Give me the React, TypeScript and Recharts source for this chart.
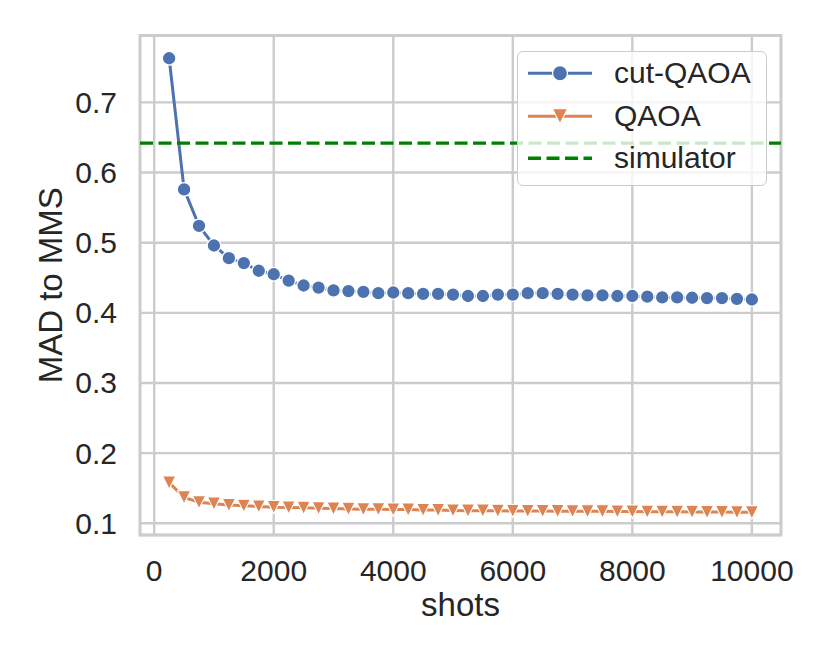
import React from 'react';
import { LineChart, Line, XAxis, YAxis, CartesianGrid, ReferenceLine, ReferenceArea, Legend } from 'recharts';

const shots = [250, 500, 750, 1000, 1250, 1500, 1750, 2000, 2250, 2500, 2750, 3000, 3250, 3500, 3750, 4000, 4250, 4500, 4750, 5000,
  5250, 5500, 5750, 6000, 6250, 6500, 6750, 7000, 7250, 7500, 7750, 8000, 8250, 8500, 8750, 9000, 9250, 9500, 9750, 10000];

const cutQAOA = [0.763, 0.576, 0.524, 0.496, 0.478, 0.471, 0.460, 0.455, 0.446, 0.439, 0.436, 0.432, 0.431, 0.430, 0.428, 0.429, 0.428, 0.427, 0.427, 0.426,
  0.424, 0.424, 0.426, 0.426, 0.428, 0.428, 0.427, 0.426, 0.425, 0.425, 0.424, 0.424, 0.423, 0.422, 0.422, 0.4215, 0.421, 0.421, 0.420, 0.419];

const qaoa = [0.158, 0.137, 0.130, 0.128, 0.126, 0.125, 0.124, 0.123, 0.1225, 0.122, 0.1215, 0.121, 0.1205, 0.120, 0.120, 0.1195, 0.1195, 0.119, 0.1188, 0.1182,
  0.118, 0.118, 0.1178, 0.1176, 0.1175, 0.1175, 0.1173, 0.1172, 0.117, 0.117, 0.1168, 0.1167, 0.1165, 0.1165, 0.1163, 0.1162, 0.116, 0.116, 0.1158, 0.1157];

const SIMULATOR = 0.642;

const xTicks = [0, 2000, 4000, 6000, 8000, 10000];
const yTicks = [0.1, 0.2, 0.3, 0.4, 0.5, 0.6, 0.7];
const xDomain = [-237.5, 10487.5];
const yDomain = [0.0833, 0.7954];

const BLUE = '#4c72b0';
const ORANGE = '#dd8452';
const GREEN = '#008000';
const TEXT = '#262626';
const GRID = '#cccccc';
const FONT = '"Liberation Sans", Arial, sans-serif';
const FS = 30;
const LABEL_FS = 33;

const data = shots.map((s, i) => ({ shots: s, cut: cutQAOA[i], qaoa: qaoa[i] }));

const XTick = (props: any) => (
  <text x={props.x} y={props.y + 46} textAnchor="middle" fontSize={FS} fill={TEXT} fontFamily={FONT}>
    {props.payload.value}
  </text>
);

const YTick = (props: any) => (
  <text x={props.x - 23} y={props.y + 10.5} textAnchor="end" fontSize={FS} fill={TEXT} fontFamily={FONT}>
    {Number(props.payload.value).toFixed(1)}
  </text>
);

const CircleDot = (props: any) => {
  const { cx, cy, index } = props;
  if (cx == null || cy == null) return <g key={index} />;
  return <circle key={index} cx={cx} cy={cy} r={6.8} fill={BLUE} stroke="#ffffff" strokeWidth={1.3} />;
};

const TriDot = (props: any) => {
  const { cx, cy, index } = props;
  if (cx == null || cy == null) return <g key={index} />;
  const h = 6.6;
  return (
    <polygon key={index} points={`${cx - h},${cy - h} ${cx + h},${cy - h} ${cx},${cy + h}`} fill={ORANGE} stroke="#ffffff" strokeWidth={1.1} />
  );
};

const legendItems = [
  { name: 'cut-QAOA', color: BLUE, kind: 'circle' },
  { name: 'QAOA', color: ORANGE, kind: 'tri' },
  { name: 'simulator', color: GREEN, kind: 'dash' },
];

const LegendContent = () => (
  <div
    style={{
      width: 250,
      boxSizing: 'border-box',
      border: `1.5px solid ${GRID}`,
      borderRadius: 6,
      background: 'rgba(255,255,255,0.8)',
      paddingBottom: 5,
      fontFamily: FONT,
      fontSize: FS,
      color: TEXT,
    }}
  >
    {legendItems.map((it) => (
      <div key={it.name} style={{ display: 'flex', alignItems: 'center', height: 42.5, lineHeight: '42.5px' }}>
        <svg width={96} height={42.5} style={{ display: 'block', flex: 'none' }}>
          {it.kind === 'dash' ? (
            <line x1={10} x2={74} y1={21.25} y2={21.25} stroke={it.color} strokeWidth={3.4} strokeDasharray="13 5.5" />
          ) : (
            <line x1={10} x2={74} y1={21.25} y2={21.25} stroke={it.color} strokeWidth={3} />
          )}
          {it.kind === 'circle' && <circle cx={42} cy={21.25} r={7.5} fill={it.color} stroke="#fff" strokeWidth={1.2} />}
          {it.kind === 'tri' && (
            <polygon points={`${42 - 7.5},${21.25 - 7.5} ${42 + 7.5},${21.25 - 7.5} 42,${21.25 + 7.5}`} fill={it.color} stroke="#fff" strokeWidth={1.1} />
          )}
        </svg>
        <span style={{ whiteSpace: 'nowrap' }}>{it.name}</span>
      </div>
    ))}
  </div>
);

const XLabel = (props: any) => {
  const vb = props.viewBox || {};
  return (
    <text x={vb.x + vb.width / 2} y={vb.y + 81} textAnchor="middle" fontSize={LABEL_FS} fill={TEXT} fontFamily={FONT}>
      shots
    </text>
  );
};

const YLabel = (props: any) => {
  const vb = props.viewBox || {};
  const cx = 54;
  const cy = vb.y + vb.height / 2;
  return (
    <text x={cx} y={cy} transform={`rotate(-90, ${cx}, ${cy})`} textAnchor="middle" fontSize={LABEL_FS} fill={TEXT} fontFamily={FONT}>
      MAD to MMS
    </text>
  );
};

export default function App() {
  return (
    <div style={{ width: 822, height: 656, position: 'relative' }}>
      <LineChart width={822} height={656} data={data} margin={{ top: 27.5, right: 49, bottom: 0, left: 0 }}>
        <CartesianGrid stroke={GRID} strokeWidth={2.4} />
        <XAxis
          dataKey="shots"
          type="number"
          domain={xDomain}
          ticks={xTicks}
          allowDataOverflow
          height={129}
          tickLine={false}
          axisLine={false}
          tickSize={0}
          tickMargin={0}
          tick={<XTick />}
          interval={0}
          label={<XLabel />}
        />
        <YAxis
          type="number"
          domain={yDomain}
          ticks={yTicks}
          allowDataOverflow
          width={132}
          tickLine={false}
          axisLine={false}
          tickSize={0}
          tickMargin={0}
          tick={<YTick />}
          interval={0}
          label={<YLabel />}
        />
        <ReferenceArea x1={xDomain[0]} x2={xDomain[1]} y1={yDomain[0]} y2={yDomain[1]} fill="none" stroke={GRID} strokeWidth={2.8} ifOverflow="visible" />
        <Line dataKey="cut" name="cut-QAOA" stroke={BLUE} strokeWidth={3} dot={CircleDot} activeDot={false} isAnimationActive={false} />
        <Line dataKey="qaoa" name="QAOA" stroke={ORANGE} strokeWidth={3} dot={TriDot} activeDot={false} isAnimationActive={false} />
        <ReferenceLine y={SIMULATOR} stroke={GREEN} strokeWidth={3.4} strokeDasharray="13 5.5" ifOverflow="extendDomain" />
        <Legend
          layout="vertical"
          align="center"
          verticalAlign="middle"
          content={<LegendContent />}
          wrapperStyle={{ left: 509, top: 43, width: 250, right: 'auto', bottom: 'auto' }}
        />
      </LineChart>
    </div>
  );
}
